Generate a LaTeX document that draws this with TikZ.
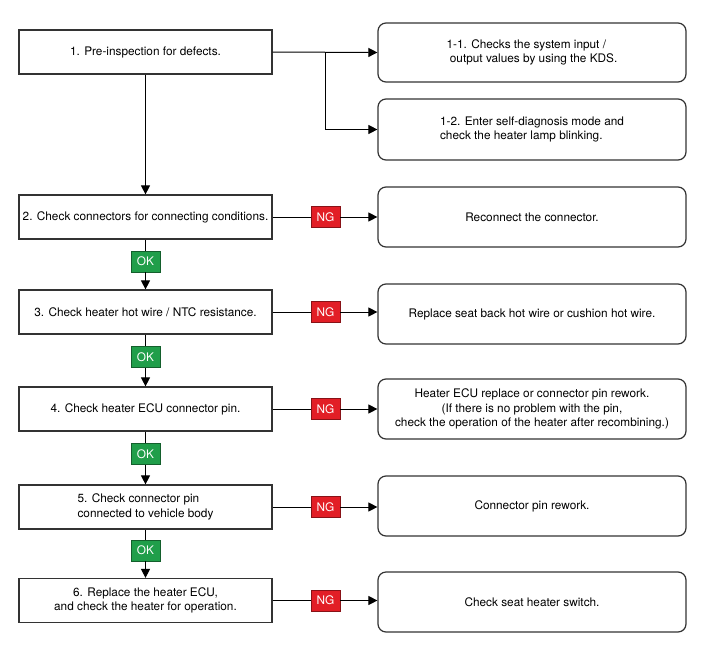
\documentclass[tikz,border=0pt]{standalone}
\usepackage{fontspec}
\setmainfont{TeX Gyre Heros}
\usetikzlibrary{arrows.meta}
\definecolor{ngred}{RGB}{226,30,38}
\definecolor{okgreen}{RGB}{32,158,74}
\tikzset{
  stepbox/.style={draw=black!80, line width=1.2pt, minimum width=253pt,
    minimum height=44pt, align=center, inner sep=2pt},
  fixbox/.style={draw=black!80, line width=1.2pt, rounded corners=8pt,
    minimum width=308pt, minimum height=60pt, align=center},
  tag/.style={text=white, minimum width=29pt, minimum height=21pt,
    inner sep=0pt, line width=0.8pt},
  ngtag/.style={tag, draw=ngred!60!black, fill=ngred},
  oktag/.style={tag, draw=okgreen!60!black, fill=okgreen},
  flow/.style={line width=1pt, -{Triangle[length=9pt,width=9pt]}}
}
\begin{document}
\begin{tikzpicture}[x=1pt,y=-1pt,font=\fontsize{11.8}{14.5}\selectfont]
  \useasboundingbox (0,0) rectangle (701,653);
  % checks on the left
  \node[stepbox] (b1) at (145.5,52) {1. Pre-inspection for defects.};
  \node[stepbox] (b2) at (145.5,217) {2. Check connectors for connecting conditions.};
  \node[stepbox] (b3) at (145.5,312) {3. Check heater hot wire / NTC resistance.};
  \node[stepbox] (b4) at (145.5,409) {4. Check heater ECU connector pin.};
  \node[stepbox, align=left] (b5) at (145.5,507) {5. Check connector pin\\connected to vehicle body};
  \node[stepbox] (b6) at (145.5,600.5) {6. Replace the heater ECU,\\and check the heater for operation.};
  % remedies on the right
  \node[fixbox, align=left, minimum height=59pt] (r11) at (532,52.5)
    {1-1. Checks the system input /\\\ output values by using the KDS.};
  \node[fixbox, align=left, minimum height=61pt] (r12) at (532,129.5)
    {1-2. Enter self-diagnosis mode and\\check the heater lamp blinking.};
  \node[fixbox] (r2) at (532,217) {Reconnect the connector.};
  \node[fixbox] (r3) at (532,314) {Replace seat back hot wire or cushion hot wire.};
  \node[fixbox] (r4) at (532,409) {Heater ECU replace or connector pin rework.\\(If there is no problem with the pin,\\check the operation of the heater after recombining.)};
  \node[fixbox] (r5) at (532,506) {Connector pin rework.};
  \node[fixbox] (r6) at (532,602) {Check seat heater switch.};
  % tags
  \foreach \i/\y in {2/217,3/312,4/409,5/507,6/600.5}
    \node[ngtag] (ng\i) at (325.5,\y) {NG};
  \foreach \i/\y in {2/261.5,3/357,4/454,5/550.5}
    \node[oktag] (ok\i) at (145.5,\y) {OK};
  % connectors
  \coordinate (split) at (325,52);
  \draw[flow] (b1.east) -- (r11.west);
  \draw[flow] (split) |- (r12.west);
  \draw[flow] (b1) -- (b2);
  \foreach \i/\j in {2/3,3/4,4/5,5/6}
    \draw[flow] (b\i) -- (ok\i) -- (b\j);
  \foreach \i in {2,...,6}
    \draw[flow] (b\i.east) -- (ng\i) -- (ng\i -| r\i.west);
\end{tikzpicture}
\end{document}
